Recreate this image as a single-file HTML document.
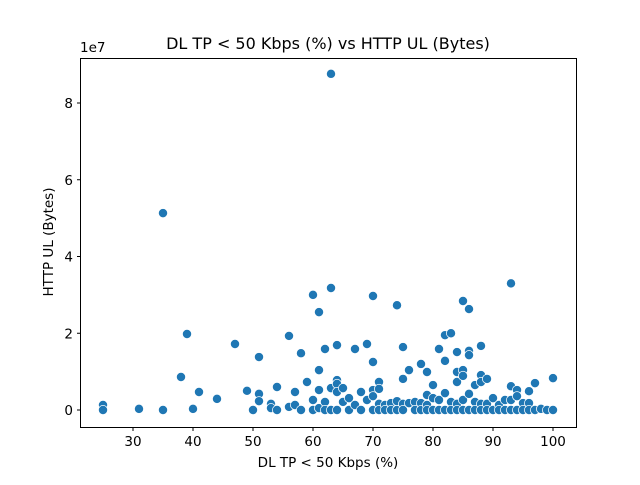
<!DOCTYPE html>
<html><head><meta charset="utf-8"><style>
body{margin:0;background:#fff}
svg text{font-family:"DejaVu Sans","Liberation Sans",sans-serif;fill:#000}
</style></head><body>
<svg id="chart" width="640" height="480">
<rect width="640" height="480" fill="#fff"/>
<text x="328" y="49" font-size="16" text-anchor="middle">DL TP &lt; 50 Kbps (%) vs HTTP UL (Bytes)</text>
<text x="328" y="467" font-size="13.5" text-anchor="middle">DL TP &lt; 50 Kbps (%)</text>
<text x="0" y="0" font-size="13.5" text-anchor="middle" transform="translate(53,242) rotate(-90)">HTTP UL (Bytes)</text>
<text x="80" y="52" font-size="13.5">1e7</text>
<g id="ticks"></g>
<g id="points"></g>
<rect x="80.5" y="58.5" width="496" height="369" fill="none" stroke="#000" stroke-width="1"/>
</svg>
<script>
const xVals=[25,25,31,35,35,38,39,40,41,44,47,49,50,51,51,51,53,53,54,54,56,56,57,57,58,58,59,60,60,60,61,61,61,61,62,62,62,63,63,63,63,64,64,64,64,64,65,65,66,66,67,67,68,68,69,69,70,70,70,70,70,71,71,71,71,72,72,73,73,74,74,74,75,75,75,75,76,76,77,77,78,78,78,79,79,79,79,80,80,80,81,81,81,82,82,82,82,83,83,83,84,84,84,84,84,85,85,85,85,85,86,86,86,86,86,87,87,87,88,88,88,88,88,89,89,89,90,90,91,91,92,92,93,93,93,93,94,94,94,95,95,96,96,96,97,97,98,99,100,100];
const yVals=[0.13,0,0.03,5.13,0,0.86,1.98,0.03,0.47,0.29,1.72,0.5,0,1.38,0.42,0.23,0.16,0.05,0.6,0,1.93,0.08,0.47,0.13,1.48,0,0.73,3.0,0.26,0,2.55,1.04,0.52,0.05,1.59,0.21,0,8.76,3.18,0.57,0,1.69,0.78,0.68,0.47,0,0.57,0.21,0.31,0,1.59,0.13,0.47,0,1.72,0.26,2.97,1.25,0.52,0.36,0,0.73,0.55,0.16,0,0.13,0,0.18,0,2.73,0.23,0,1.64,0.81,0.16,0,1.04,0.18,0.21,0,1.2,0.18,0,0.99,0.39,0.13,0,0.65,0.31,0,1.59,0.26,0,1.95,1.28,0.44,0,2.0,0.21,0,1.51,0.99,0.73,0.16,0,2.84,1.04,0.89,0.26,0,2.63,1.54,1.43,0.42,0,0.65,0.21,0,1.67,0.91,0.73,0.16,0,0.81,0.16,0,0.31,0,0.13,0,0.26,0,3.3,0.62,0.26,0,0.52,0.36,0,0.18,0,0.49,0.18,0,0.7,0,0.03,0,0.83,0];
const xTicks=[30,40,50,60,70,80,90,100];
const yTicks=[0,2,4,6,8];
const NS="http://www.w3.org/2000/svg";
const X=v=>133+(v-30)*6;
const Y=v=>410-v*38.375;
const tg=document.getElementById('ticks');
xTicks.forEach(t=>{
  const l=document.createElementNS(NS,'line');
  l.setAttribute('x1',X(t));l.setAttribute('x2',X(t));l.setAttribute('y1',427.5);l.setAttribute('y2',431);l.setAttribute('stroke','#000');
  
  
  tg.appendChild(l);
  const tx=document.createElementNS(NS,'text');
  tx.setAttribute('x',X(t));tx.setAttribute('y',446);tx.setAttribute('font-size','13.5');tx.setAttribute('text-anchor','middle');tx.textContent=t;
  
  
  tg.appendChild(tx);
});
yTicks.forEach(t=>{
  const l=document.createElementNS(NS,'line');
  l.setAttribute('x1',77);l.setAttribute('x2',80.5);l.setAttribute('y1',Y(t));l.setAttribute('y2',Y(t));l.setAttribute('stroke','#000');
  
  
  tg.appendChild(l);
  const tx=document.createElementNS(NS,'text');
  tx.setAttribute('x',73);tx.setAttribute('y',Y(t)+5);tx.setAttribute('font-size','13.5');tx.setAttribute('text-anchor','end');tx.textContent=t;
  
  
  tg.appendChild(tx);
});
const pg=document.getElementById('points');
xVals.forEach((x,i)=>{
  const c=document.createElementNS(NS,'circle');
  c.setAttribute('cx',X(x));c.setAttribute('cy',Y(yVals[i]));c.setAttribute('r',4.6);
  c.setAttribute('fill','#1f77b4');c.setAttribute('stroke','#fff');c.setAttribute('stroke-width','0.75');
  
  
  pg.appendChild(c);
});
</script>
</body></html>
